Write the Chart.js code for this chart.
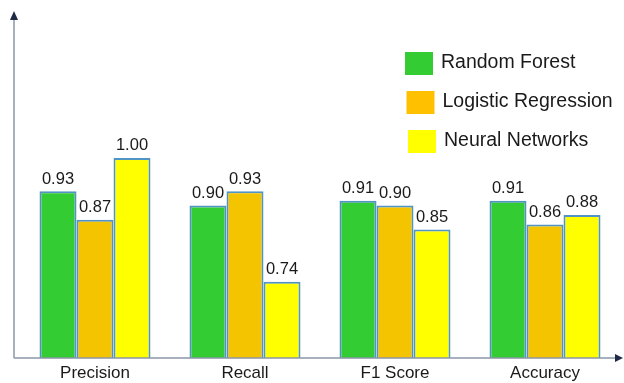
<!DOCTYPE html>
<html lang="en">
<head>
  <meta charset="UTF-8" />
  <title>Model comparison</title>
  <script src="https://cdn.jsdelivr.net/npm/chart.js"></script>
  <style>
    body {
      margin: 0;
      padding: 0;
      background: #ffffff;
    }
    .chart-container {
      width: 624px;
      height: 383px;
    }
  </style>
</head>
<body>
  <div class="chart-container">
    <canvas id="metricsChart"></canvas>
  </div>

  <script>
    const metrics = ['Precision', 'Recall', 'F1 Score', 'Accuracy'];
    const randomForest = [0.93, 0.90, 0.91, 0.91];
    const logisticRegression = [0.87, 0.93, 0.90, 0.86];
    const neuralNetworks = [1.00, 0.74, 0.85, 0.88];

    const FONT = "'Liberation Sans', Arial, sans-serif";
    const EDGE = '#4f94c4';
    const AXIS_X = 14;

    // value above each bar
    const valueLabels = {
      id: 'valueLabels',
      afterDatasetsDraw(chart) {
        const ctx = chart.ctx;
        ctx.save();
        ctx.font = '16.5px ' + FONT;
        ctx.fillStyle = '#1a1a1a';
        ctx.textAlign = 'center';
        ctx.textBaseline = 'bottom';
        chart.data.datasets.forEach((ds, i) => {
          chart.getDatasetMeta(i).data.forEach((bar, j) => {
            ctx.fillText(ds.data[j].toFixed(2), bar.x, bar.y - 4);
          });
        });
        ctx.restore();
      }
    };

    // axis lines with arrow heads
    const arrowAxes = {
      id: 'arrowAxes',
      afterDraw(chart) {
        const { ctx, chartArea } = chart;
        const x0 = AXIS_X, y0 = chartArea.bottom;
        ctx.save();
        ctx.strokeStyle = '#8c95a8';
        ctx.lineWidth = 1.5;
        ctx.beginPath();
        ctx.moveTo(x0, y0);
        ctx.lineTo(x0, 18);
        ctx.moveTo(x0, y0);
        ctx.lineTo(chart.width - 6, y0);
        ctx.stroke();
        ctx.fillStyle = '#1f2a44';
        ctx.beginPath();
        ctx.moveTo(x0, 11);
        ctx.lineTo(x0 - 4, 20);
        ctx.lineTo(x0 + 4, 20);
        ctx.closePath();
        ctx.fill();
        ctx.beginPath();
        ctx.moveTo(chart.width - 1, y0);
        ctx.lineTo(chart.width - 9, y0 - 4);
        ctx.lineTo(chart.width - 9, y0 + 4);
        ctx.closePath();
        ctx.fill();
        ctx.restore();
      }
    };

    // legend boxes at the upper right
    const sideLegend = {
      id: 'sideLegend',
      afterDraw(chart) {
        const ctx = chart.ctx;
        ctx.save();
        ctx.font = '19.5px ' + FONT;
        ctx.textBaseline = 'middle';
        chart.data.datasets.forEach((ds, i) => {
          const y = 52 + i * 39;
          const x = 405 + i * 1.5;
          ctx.fillStyle = ds.legendColor;
          ctx.fillRect(x, y, 28, 23);
          ctx.fillStyle = '#1a1a1a';
          ctx.fillText(ds.label, x + 36, y + 11);
        });
        ctx.restore();
      }
    };

    const ctx = document.getElementById('metricsChart').getContext('2d');
    new Chart(ctx, {
      type: 'bar',
      data: {
        labels: metrics,
        datasets: [
          { label: 'Random Forest', data: randomForest, backgroundColor: '#33cc33', legendColor: '#33cc33' },
          { label: 'Logistic Regression', data: logisticRegression, backgroundColor: '#f5c400', legendColor: '#ffc000' },
          { label: 'Neural Networks', data: neuralNetworks, backgroundColor: '#ffff00', legendColor: '#ffff00' }
        ].map(d => Object.assign(d, {
          borderColor: EDGE,
          borderWidth: 2,
          barPercentage: 1,
          categoryPercentage: 0.74
        }))
      },
      options: {
        responsive: true,
        maintainAspectRatio: false,
        animation: false,
        layout: { padding: { left: 20, right: 4, top: 15, bottom: 0 } },
        plugins: {
          legend: { display: false },
          tooltip: { enabled: false }
        },
        scales: {
          x: {
            grid: { display: false, drawTicks: false },
            border: { display: false },
            ticks: {
              color: '#1a1a1a',
              font: { family: FONT, size: 17 },
              padding: 5
            },
            afterFit(scale) { scale.height = 25; }
          },
          y: {
            display: false,
            min: 0.58,
            max: 1.30
          }
        }
      },
      plugins: [valueLabels, arrowAxes, sideLegend]
    });
  </script>
</body>
</html>
